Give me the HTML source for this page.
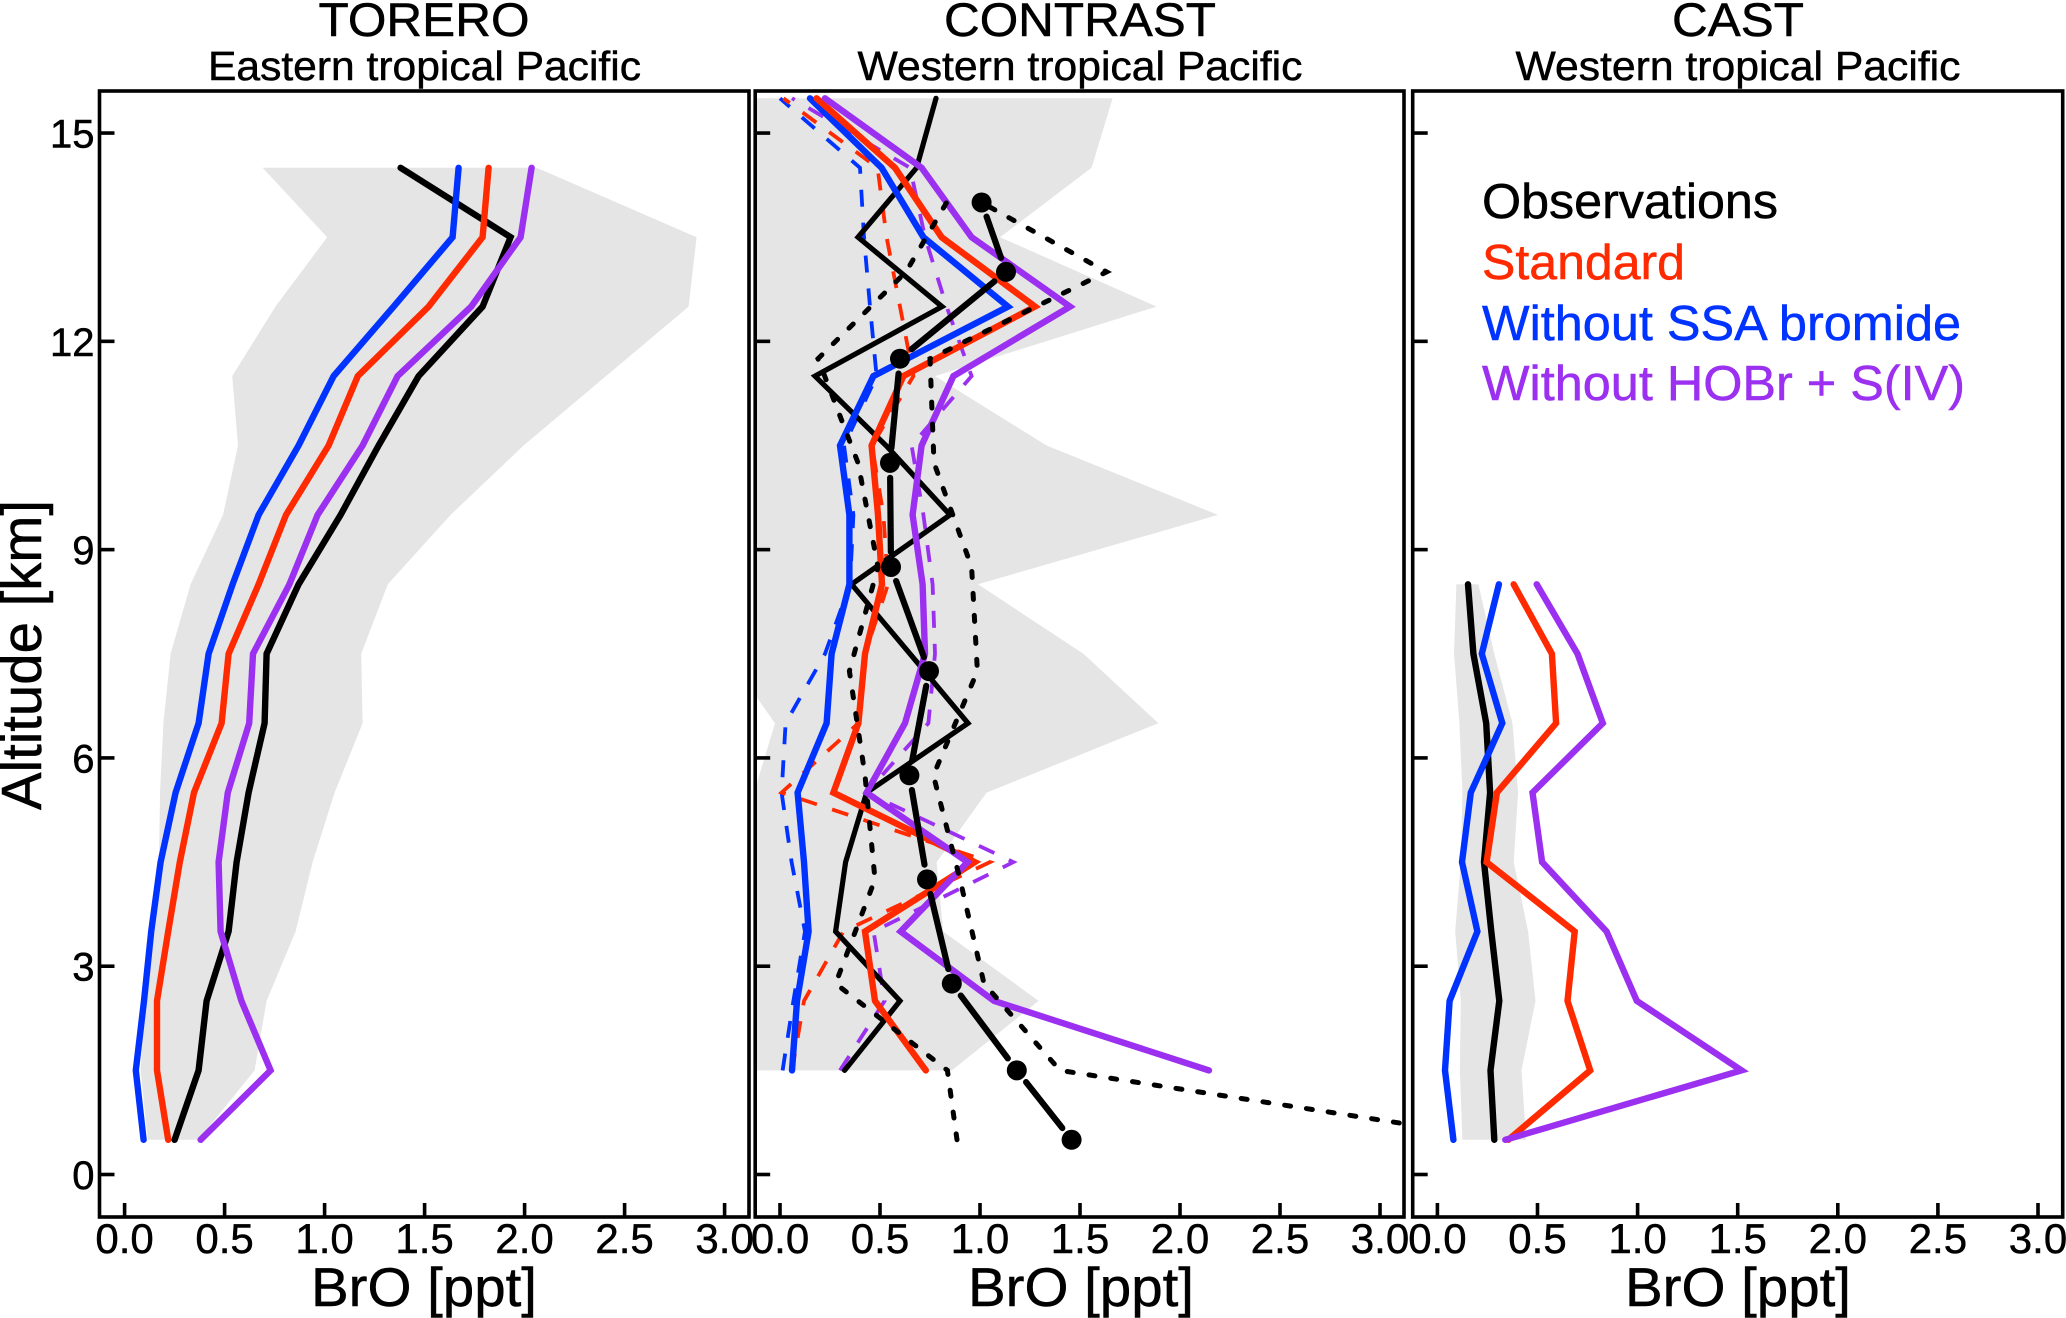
<!DOCTYPE html>
<html lang="en">
<head>
<meta charset="utf-8">
<title>BrO vertical profiles: TORERO, CONTRAST, CAST</title>
<style>
html,body{margin:0;padding:0;background:#fff;}
svg{display:block;}
text{font-family:"Liberation Sans",Arial,sans-serif;fill:#000;stroke:#000;stroke-width:0.5px;}
</style>
</head>
<body>
<svg id="chart" xmlns="http://www.w3.org/2000/svg" width="2066" height="1318" viewBox="0 0 2066 1318">
  <rect x="0" y="0" width="2066" height="1318" fill="#fff"/>
  <defs>
    <clipPath id="clip-contrast"><rect x="757" y="93" width="645" height="1122"/></clipPath>
  </defs>
  <g id="panel-torero"></g>
  <g id="panel-contrast"></g>
  <g id="panel-cast"></g>

  <text x="424" y="36" font-size="47" text-anchor="middle" textLength="211" lengthAdjust="spacingAndGlyphs">TORERO</text>
  <text x="424.5" y="80" font-size="41" text-anchor="middle" textLength="433" lengthAdjust="spacingAndGlyphs">Eastern tropical Pacific</text>
  <text x="1080" y="36" font-size="47" text-anchor="middle" textLength="272" lengthAdjust="spacingAndGlyphs">CONTRAST</text>
  <text x="1080" y="80" font-size="41" text-anchor="middle" textLength="445" lengthAdjust="spacingAndGlyphs">Western tropical Pacific</text>
  <text x="1738" y="36" font-size="47" text-anchor="middle" textLength="132" lengthAdjust="spacingAndGlyphs">CAST</text>
  <text x="1738" y="80" font-size="41" text-anchor="middle" textLength="445" lengthAdjust="spacingAndGlyphs">Western tropical Pacific</text>

  <text transform="translate(41,655) rotate(-90)" font-size="57" text-anchor="middle" textLength="310" lengthAdjust="spacingAndGlyphs">Altitude [km]</text>
  <text x="424" y="1306" font-size="55" text-anchor="middle" textLength="226" lengthAdjust="spacingAndGlyphs">BrO [ppt]</text>
  <text x="1081" y="1306" font-size="55" text-anchor="middle" textLength="226" lengthAdjust="spacingAndGlyphs">BrO [ppt]</text>
  <text x="1738" y="1306" font-size="55" text-anchor="middle" textLength="226" lengthAdjust="spacingAndGlyphs">BrO [ppt]</text>

  <g>
    <text x="1482" y="218" font-size="49" textLength="296" lengthAdjust="spacingAndGlyphs">Observations</text>
    <text x="1482" y="279" font-size="49" style="fill:#ff2a00;stroke:#ff2a00" textLength="203" lengthAdjust="spacingAndGlyphs">Standard</text>
    <text x="1482" y="340" font-size="49" style="fill:#0033ff;stroke:#0033ff" textLength="479" lengthAdjust="spacingAndGlyphs">Without SSA bromide</text>
    <text x="1482" y="400" font-size="49" style="fill:#9b30f0;stroke:#9b30f0" textLength="483" lengthAdjust="spacingAndGlyphs">Without HOBr + S(IV)</text>
  </g>
</svg>

<script>
// ---------- shared axis data ----------
const xTickValues = [0, 0.5, 1, 1.5, 2, 2.5, 3];
const xTickLabels = ['0.0', '0.5', '1.0', '1.5', '2.0', '2.5', '3.0'];
const yTickValues = [0, 3, 6, 9, 12, 15];
const yTickLabels = ['0', '3', '6', '9', '12', '15'];

// ---------- TORERO ----------
const toreroAltitude = [0.5, 1.5, 2.5, 3.5, 4.5, 5.5, 6.5, 7.5, 8.5, 9.5, 10.5, 11.5, 12.5, 13.5, 14.5];
const toreroBlack  = [0.25, 0.37, 0.41, 0.52, 0.56, 0.62, 0.70, 0.71, 0.87, 1.08, 1.27, 1.47, 1.79, 1.93, 1.38];
const toreroBlue   = [0.095, 0.056, 0.097, 0.133, 0.18, 0.255, 0.37, 0.42, 0.54, 0.67, 0.87, 1.045, 1.345, 1.64, 1.67];
const toreroRed    = [0.218, 0.162, 0.162, 0.218, 0.276, 0.347, 0.485, 0.52, 0.67, 0.807, 1.02, 1.166, 1.52, 1.79, 1.82];
const toreroPurple = [0.38, 0.73, 0.584, 0.48, 0.47, 0.516, 0.623, 0.642, 0.824, 0.965, 1.19, 1.365, 1.733, 1.98, 2.035];
const toreroShadeLow  = [0.116, 0.08, 0.10, 0.14, 0.172, 0.177, 0.194, 0.23, 0.33, 0.492, 0.567, 0.538, 0.754, 1.013, 0.69];
const toreroShadeHigh = [0.37, 0.65, 0.71, 0.855, 0.94, 1.05, 1.19, 1.183, 1.316, 1.63, 1.995, 2.407, 2.82, 2.86, 2.06];

// ---------- CONTRAST ----------
const contrastAltitude = [1.5, 2.5, 3.5, 4.5, 5.5, 6.5, 7.5, 8.5, 9.5, 10.5, 11.5, 12.5, 13.5, 14.5, 15.5];
const contrastBlack  = [0.323, 0.60, 0.278, 0.328, 0.433, 0.94, 0.65, 0.358, 0.85, 0.53, 0.175, 0.81, 0.39, 0.683, 0.78];
const contrastBlue   = [0.06, 0.085, 0.143, 0.12, 0.088, 0.233, 0.258, 0.347, 0.347, 0.30, 0.467, 1.14, 0.717, 0.508, 0.15];
const contrastRed    = [0.729, 0.475, 0.425, 0.974, 0.267, 0.392, 0.425, 0.51, 0.49, 0.458, 0.617, 1.275, 0.808, 0.575, 0.183];
const contrastPurple = [2.145, 1.07, 0.603, 0.938, 0.433, 0.625, 0.725, 0.713, 0.663, 0.708, 0.867, 1.45, 0.958, 0.708, 0.225];
const contrastBlueDashed   = [0.013, 0.067, 0.125, 0.058, 0.008, 0.028, 0.225, 0.35, 0.367, 0.32, 0.483, 0.45, 0.42, 0.40, 0.0];
const contrastRedDashed    = [0.06, 0.12, 0.317, 1.05, 0.008, 0.392, 0.425, 0.54, 0.517, 0.46, 0.667, 0.60, 0.533, 0.488, 0.017];
const contrastPurpleDashed = [0.30, 0.523, 0.468, 1.167, 0.433, 0.742, 0.775, 0.763, 0.717, 0.658, 0.958, 0.833, 0.725, 0.65, 0.06];
const contrastShadeLow  = [-0.2, -0.2, -0.2, -0.2, -0.13, -0.025, -0.27, -0.2, -0.2, -0.2, -0.2, -0.2, -0.2, -0.2, -0.2];
const contrastShadeHigh = [0.859, 1.293, 0.816, 0.783, 1.033, 1.892, 1.517, 0.99, 2.19, 1.333, 0.775, 1.883, 1.10, 1.558, 1.663];
const obsAltitude = [0.5, 1.5, 2.75, 4.25, 5.75, 7.25, 8.75, 10.25, 11.75, 13, 14];
const obsValue    = [1.458, 1.184, 0.859, 0.735, 0.647, 0.745, 0.555, 0.55, 0.60, 1.13, 1.008];
const obsLowBound  = [0.885, 0.837, 0.278, 0.475, 0.425, 0.347, 0.49, 0.39, 0.19, 0.63, 0.833];
const obsHighBound = [3.64, 1.40, 1.02, 0.90, 0.767, 0.987, 0.958, 0.77, 0.75, 1.633, 1.008];

// ---------- CAST ----------
const castAltitude = [0.5, 1.5, 2.5, 3.5, 4.5, 5.5, 6.5, 7.5, 8.5];
const castBlack  = [0.284, 0.265, 0.309, 0.269, 0.233, 0.263, 0.244, 0.18, 0.153];
const castBlue   = [0.08, 0.038, 0.061, 0.20, 0.123, 0.167, 0.324, 0.222, 0.307];
const castRed    = [0.354, 0.763, 0.65, 0.686, 0.246, 0.297, 0.593, 0.572, 0.381];
const castPurple = [0.339, 1.519, 0.996, 0.845, 0.523, 0.475, 0.826, 0.70, 0.496];
const castShadeLow  = [0.125, 0.112, 0.117, 0.089, 0.117, 0.125, 0.11, 0.083, 0.095];
const castShadeHigh = [0.443, 0.42, 0.49, 0.453, 0.381, 0.403, 0.375, 0.284, 0.205];

// ---------- styling ----------
const COL_BLACK = '#000000';
const COL_RED = '#ff2a00';
const COL_BLUE = '#0033ff';
const COL_PURPLE = '#9b30f0';
const COL_SHADE = '#e5e5e5';
const SVGNS = 'http://www.w3.org/2000/svg';

const Y_ZERO = 1174.5, Y_SCALE = 69.43;
const FRAME_TOP = 91, FRAME_BOTTOM = 1217;

function yAxis(alt) { return Y_ZERO - Y_SCALE * alt; }
function xAxisFor(zero, scale) { return function (v) { return zero + scale * v; }; }

function createSvg(tag, parent) {
  const el = document.createElementNS(SVGNS, tag);
  parent.appendChild(el);
  return el;
}

function pathFrom(xs, ys, xAxis) {
  return xs.map(function (v, i) {
    return (i ? 'L' : 'M') + xAxis(v).toFixed(1) + ' ' + yAxis(ys[i]).toFixed(1);
  }).join(' ');
}

function drawFrame(parent, left, right, xAxis, showLabels, prefix) {
  const frame = createSvg('rect', parent);
  
  
  frame.setAttribute('x', left);
  frame.setAttribute('y', FRAME_TOP);
  frame.setAttribute('width', right - left);
  frame.setAttribute('height', FRAME_BOTTOM - FRAME_TOP);
  frame.setAttribute('fill', 'none');
  frame.setAttribute('stroke', '#000');
  frame.setAttribute('stroke-width', '3.6');

  xTickValues.forEach(function (v, i) {
    const tick = createSvg('line', parent);
    
    
    tick.setAttribute('x1', xAxis(v));
    tick.setAttribute('x2', xAxis(v));
    tick.setAttribute('y1', FRAME_BOTTOM);
    tick.setAttribute('y2', FRAME_BOTTOM - 14);
    tick.setAttribute('stroke', '#000');
    tick.setAttribute('stroke-width', '3.6');

    const label = createSvg('text', parent);
    
    
    label.setAttribute('x', xAxis(v));
    label.setAttribute('y', 1253);
    label.setAttribute('font-size', '42');
    label.setAttribute('text-anchor', 'middle');
    label.textContent = xTickLabels[i];
  });

  yTickValues.forEach(function (a, i) {
    const tick = createSvg('line', parent);
    
    
    tick.setAttribute('x1', left);
    tick.setAttribute('x2', left + 15);
    tick.setAttribute('y1', yAxis(a));
    tick.setAttribute('y2', yAxis(a));
    tick.setAttribute('stroke', '#000');
    tick.setAttribute('stroke-width', '3.6');

    if (showLabels) {
      const label = createSvg('text', parent);
      
      
      label.setAttribute('x', 94.5);
      label.setAttribute('y', yAxis(a) + 14.5);
      label.setAttribute('font-size', '40');
      label.setAttribute('text-anchor', 'end');
      label.textContent = yTickLabels[i];
    }
  });
}

function drawShade(parent, name, alts, low, high, xAxis) {
  const up = pathFrom(low, alts, xAxis);
  const rl = high.slice().reverse();
  const ra = alts.slice().reverse();
  const down = pathFrom(rl, ra, xAxis).replace('M', 'L');
  const shade = createSvg('path', parent);
  
  
  shade.setAttribute('d', up + ' ' + down + ' Z');
  shade.setAttribute('fill', COL_SHADE);
}

function drawLine(parent, name, alts, vals, xAxis, color, width, dash) {
  const line = createSvg('path', parent);
  
  
  line.setAttribute('d', pathFrom(vals, alts, xAxis));
  line.setAttribute('fill', 'none');
  line.setAttribute('stroke', color);
  line.setAttribute('stroke-width', width);
  line.setAttribute('stroke-linejoin', 'miter');
  line.setAttribute('stroke-miterlimit', '6');
  line.setAttribute('stroke-linecap', dash && dash.round === false ? 'butt' : 'round');
  if (dash) line.setAttribute('stroke-dasharray', dash.pattern);
}

function drawObservations(parent, xAxis) {
  const GAP = 15;
  for (let i = 0; i < obsValue.length - 1; i++) {
    const x1 = xAxis(obsValue[i]), y1 = yAxis(obsAltitude[i]);
    const x2 = xAxis(obsValue[i + 1]), y2 = yAxis(obsAltitude[i + 1]);
    const len = Math.hypot(x2 - x1, y2 - y1);
    if (len <= 2 * GAP) continue;
    const ux = (x2 - x1) / len, uy = (y2 - y1) / len;
    const seg = createSvg('line', parent);
    
    
    seg.setAttribute('x1', x1 + ux * GAP);
    seg.setAttribute('y1', y1 + uy * GAP);
    seg.setAttribute('x2', x2 - ux * GAP);
    seg.setAttribute('y2', y2 - uy * GAP);
    seg.setAttribute('stroke', '#000');
    seg.setAttribute('stroke-width', '6.2');
    seg.setAttribute('stroke-linecap', 'round');
  }
  obsValue.forEach(function (v, i) {
    const dot = createSvg('circle', parent);
    
    
    dot.setAttribute('cx', xAxis(v));
    dot.setAttribute('cy', yAxis(obsAltitude[i]));
    dot.setAttribute('r', '10');
    dot.setAttribute('fill', '#000');
  });
}

// ---------- build panels ----------
const SOLID_W = 6.4;
const dashThin = { pattern: '17 16', round: false };
const dotObs = { pattern: '6 16', round: true };

(function () {
  const g = document.getElementById('panel-torero');
  const x = xAxisFor(124.6, 200);
  drawShade(g, 'torero-uncertainty-band', toreroAltitude, toreroShadeLow, toreroShadeHigh, x);
  drawLine(g, 'torero-observations-line', toreroAltitude, toreroBlack, x, COL_BLACK, SOLID_W);
  drawLine(g, 'torero-without-ssa-line', toreroAltitude, toreroBlue, x, COL_BLUE, SOLID_W);
  drawLine(g, 'torero-standard-line', toreroAltitude, toreroRed, x, COL_RED, SOLID_W);
  drawLine(g, 'torero-without-hobr-line', toreroAltitude, toreroPurple, x, COL_PURPLE, SOLID_W);
  drawFrame(g, 99.5, 749, x, true, 'torero');
})();

(function () {
  const g = document.getElementById('panel-contrast');
  const x = xAxisFor(780, 200);
  const clip = createSvg('g', g);
  
  
  clip.setAttribute('clip-path', 'url(#clip-contrast)');
  drawShade(clip, 'contrast-uncertainty-band', contrastAltitude, contrastShadeLow, contrastShadeHigh, x);
  drawLine(clip, 'contrast-without-ssa-dashed-line', contrastAltitude, contrastBlueDashed, x, COL_BLUE, 3.8, dashThin);
  drawLine(clip, 'contrast-standard-dashed-line', contrastAltitude, contrastRedDashed, x, COL_RED, 3.8, dashThin);
  drawLine(clip, 'contrast-without-hobr-dashed-line', contrastAltitude, contrastPurpleDashed, x, COL_PURPLE, 3.8, dashThin);
  drawLine(clip, 'contrast-model-black-line', contrastAltitude, contrastBlack, x, COL_BLACK, 5.2);
  drawLine(clip, 'contrast-without-ssa-line', contrastAltitude, contrastBlue, x, COL_BLUE, SOLID_W);
  drawLine(clip, 'contrast-standard-line', contrastAltitude, contrastRed, x, COL_RED, SOLID_W);
  drawLine(clip, 'contrast-without-hobr-line', contrastAltitude, contrastPurple, x, COL_PURPLE, SOLID_W);
  drawLine(clip, 'contrast-obs-lower-bound', obsAltitude, obsLowBound, x, COL_BLACK, 5, dotObs);
  drawLine(clip, 'contrast-obs-upper-bound', obsAltitude, obsHighBound, x, COL_BLACK, 5, dotObs);
  drawObservations(clip, x);
  drawFrame(g, 755.2, 1404, x, false, 'contrast');
})();

(function () {
  const g = document.getElementById('panel-cast');
  const x = xAxisFor(1437.4, 200.2);
  drawShade(g, 'cast-uncertainty-band', castAltitude, castShadeLow, castShadeHigh, x);
  drawLine(g, 'cast-observations-line', castAltitude, castBlack, x, COL_BLACK, SOLID_W);
  drawLine(g, 'cast-without-ssa-line', castAltitude, castBlue, x, COL_BLUE, SOLID_W);
  drawLine(g, 'cast-standard-line', castAltitude, castRed, x, COL_RED, SOLID_W);
  drawLine(g, 'cast-without-hobr-line', castAltitude, castPurple, x, COL_PURPLE, SOLID_W);
  drawFrame(g, 1412.7, 2062.7, x, false, 'cast');
})();
</script>
</body>
</html>
